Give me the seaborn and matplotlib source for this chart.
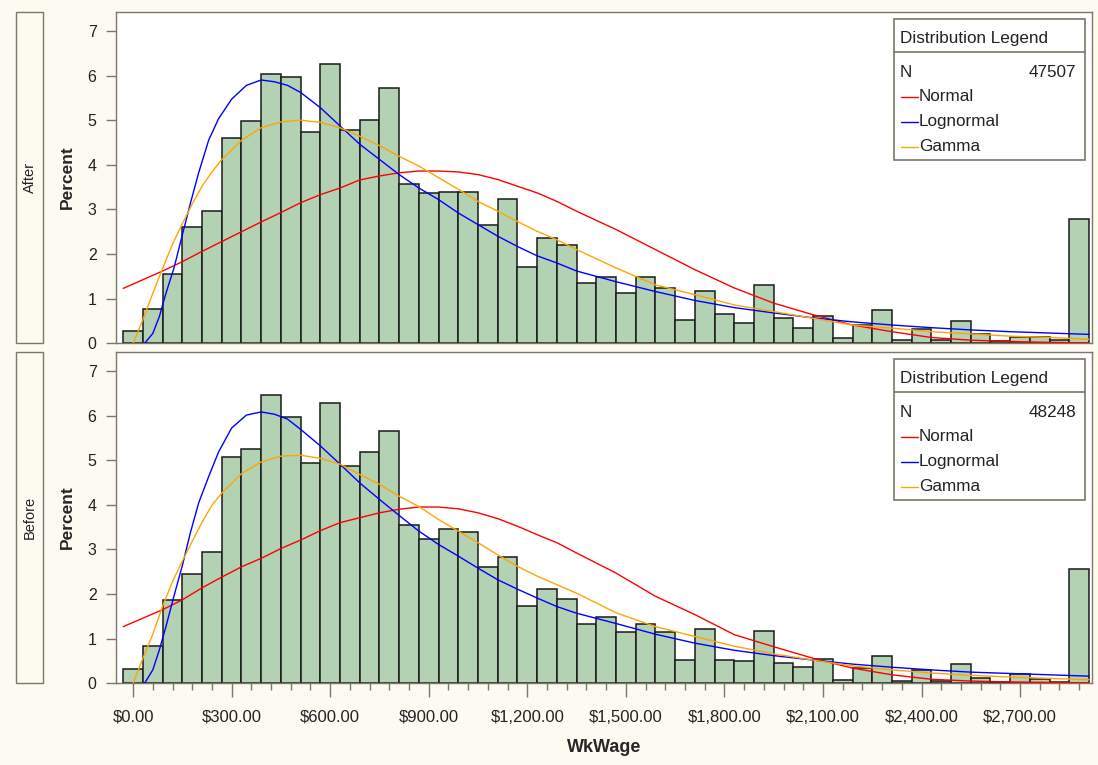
import numpy as np
import pandas as pd
import matplotlib.pyplot as plt
import seaborn as sns
from matplotlib.patches import Rectangle
from matplotlib.ticker import FixedLocator

# histogram bins (percent of obs per $60 bin)
BIN_WIDTH = 60
BIN_CENTERS = np.arange(0, 2881, BIN_WIDTH)

AFTER_PCT = [0.28, 0.77, 1.55, 2.61, 2.96, 4.61, 4.97, 6.03, 5.97, 4.73,
             6.25, 4.79, 5.01, 5.72, 3.58, 3.36, 3.39, 3.39, 2.64, 3.23,
             1.71, 2.36, 2.21, 1.36, 1.49, 1.12, 1.49, 1.25, 0.52, 1.18,
             0.65, 0.46, 1.30, 0.56, 0.34, 0.62, 0.12, 0.41, 0.74, 0.08,
             0.31, 0.08, 0.49, 0.20, 0.05, 0.15, 0.13, 0.07, 2.79]
BEFORE_PCT = [0.31, 0.84, 1.87, 2.45, 2.95, 5.06, 5.25, 6.46, 5.96, 4.94,
              6.28, 4.87, 5.18, 5.66, 3.54, 3.23, 3.45, 3.39, 2.60, 2.82,
              1.74, 2.11, 1.90, 1.33, 1.49, 1.15, 1.33, 1.15, 0.52, 1.21,
              0.52, 0.49, 1.18, 0.46, 0.37, 0.55, 0.08, 0.34, 0.62, 0.05,
              0.30, 0.05, 0.43, 0.11, 0.04, 0.21, 0.09, 0.03, 2.55]

# fitted curves
NORMAL_X = [-30, 90, 150, 210, 270, 330, 390, 450, 510, 570, 630, 690, 750,
            810, 870, 930, 990, 1050, 1110, 1170, 1230, 1290, 1350, 1470,
            1590, 1710, 1830, 1950, 2070, 2190, 2310, 2430, 2550, 2670, 2790, 2910]
AFTER_NORMAL = [1.23, 1.62, 1.83, 2.06, 2.28, 2.50, 2.72, 2.93, 3.15, 3.33, 3.48,
                3.66, 3.75, 3.82, 3.86, 3.86, 3.84, 3.78, 3.67, 3.52, 3.37, 3.18,
                2.96, 2.55, 2.10, 1.65, 1.24, 0.90, 0.64, 0.41, 0.26, 0.13, 0.07,
                0.04, 0.02, 0.01]
BEFORE_NORMAL = [1.27, 1.65, 1.87, 2.14, 2.38, 2.61, 2.80, 3.02, 3.21, 3.42, 3.60,
                 3.71, 3.82, 3.90, 3.95, 3.95, 3.91, 3.82, 3.69, 3.52, 3.33, 3.15,
                 2.92, 2.47, 1.95, 1.54, 1.09, 0.82, 0.56, 0.34, 0.19, 0.09, 0.05,
                 0.03, 0.02, 0.01]

LOGN_X = [35, 60, 80, 100, 125, 150, 175, 200, 230, 260, 300, 345, 390, 430,
          470, 510, 570, 630, 690, 750, 810, 870, 930, 990, 1050, 1110, 1170,
          1230, 1290, 1350, 1470, 1590, 1710, 1830, 1950, 2070, 2190, 2310,
          2430, 2550, 2670, 2790, 2910]
AFTER_LOGN = [0, 0.22, 0.60, 1.12, 1.70, 2.43, 3.15, 3.83, 4.55, 5.03, 5.47, 5.78,
              5.90, 5.86, 5.78, 5.62, 5.28, 4.87, 4.46, 4.12, 3.78, 3.48, 3.22,
              2.92, 2.66, 2.40, 2.17, 1.96, 1.80, 1.62, 1.38, 1.16, 0.96, 0.80,
              0.68, 0.57, 0.48, 0.41, 0.35, 0.30, 0.26, 0.23, 0.20]
BEFORE_LOGN = [0, 0.30, 0.75, 1.27, 1.97, 2.64, 3.39, 4.05, 4.63, 5.18, 5.72, 6.01,
               6.08, 6.03, 5.92, 5.69, 5.32, 4.91, 4.49, 4.12, 3.76, 3.41, 3.11,
               2.85, 2.58, 2.32, 2.11, 1.91, 1.72, 1.57, 1.34, 1.10, 0.90, 0.74,
               0.62, 0.52, 0.43, 0.36, 0.30, 0.25, 0.22, 0.19, 0.16]

GAMMA_X = [0, 30, 60, 90, 120, 150, 180, 210, 240, 270, 330, 390, 450, 510, 570,
           630, 690, 750, 810, 870, 930, 990, 1050, 1110, 1170, 1230, 1290, 1350,
           1470, 1590, 1710, 1830, 1950, 2070, 2190, 2310, 2430, 2550, 2670,
           2790, 2910]
AFTER_GAMMA = [0, 0.53, 1.12, 1.68, 2.22, 2.68, 3.12, 3.52, 3.84, 4.12, 4.55, 4.83,
               4.96, 5.00, 4.95, 4.83, 4.64, 4.43, 4.19, 3.97, 3.71, 3.45, 3.18,
               2.96, 2.73, 2.51, 2.32, 2.10, 1.69, 1.31, 1.09, 0.86, 0.71, 0.56,
               0.41, 0.34, 0.26, 0.21, 0.16, 0.13, 0.09]
BEFORE_GAMMA = [0, 0.56, 1.10, 1.73, 2.28, 2.74, 3.18, 3.61, 3.99, 4.26, 4.70, 4.96,
                5.09, 5.11, 5.04, 4.91, 4.68, 4.46, 4.19, 3.96, 3.67, 3.41, 3.15,
                2.88, 2.62, 2.40, 2.21, 2.02, 1.58, 1.27, 1.05, 0.83, 0.66, 0.52,
                0.39, 0.30, 0.23, 0.18, 0.14, 0.11, 0.08]

PANELS = ["After", "Before"]
N_OBS = [47507, 48248]
CURVE_NAMES = ["Normal", "Lognormal", "Gamma"]
CURVE_COLORS = ["#FF0000", "#0000FF", "#FFA500"]

X_TICKS = [0, 300, 600, 900, 1200, 1500, 1800, 2100, 2400, 2700]
X_TICK_LABELS = ["$0.00", "$300.00", "$600.00", "$900.00", "$1,200.00",
                 "$1,500.00", "$1,800.00", "$2,100.00", "$2,400.00", "$2,700.00"]
Y_TICKS = [0, 1, 2, 3, 4, 5, 6, 7]

BG = "#FDFAF2"
FRAME = "#7C7868"
BAR = "#B3D1B3"
TXT = "#222222"

sns.set_theme(style="white")
plt.rcParams["font.family"] = ["Liberation Sans", "DejaVu Sans"]

fig = plt.figure(figsize=(10.98, 7.65), dpi=100, facecolor=BG)

W, H = 1098, 765
ax_left, ax_right = 116, 1092
panel_px = [(11.7, 343.3), (351.7, 683.3)]

panel_data = [
    (AFTER_PCT, [AFTER_NORMAL, AFTER_LOGN, AFTER_GAMMA]),
    (BEFORE_PCT, [BEFORE_NORMAL, BEFORE_LOGN, BEFORE_GAMMA]),
]
curve_x = [NORMAL_X, LOGN_X, GAMMA_X]

for i, (name, n_obs) in enumerate(zip(PANELS, N_OBS)):
    top, bot = panel_px[i]
    ax = fig.add_axes([ax_left / W, 1 - bot / H, (ax_right - ax_left) / W, (bot - top) / H])
    ax.set_facecolor("white")
    pct, curves = panel_data[i]

    hist_df = pd.DataFrame({"wage": BIN_CENTERS, "pct": pct})
    sns.histplot(data=hist_df, x="wage", weights="pct", binwidth=BIN_WIDTH,
                 binrange=(-30, 2910), color=BAR, edgecolor="#1a1a1a",
                 linewidth=1.1, alpha=1, ax=ax, zorder=2)
    for cx, cy, col in zip(curve_x, curves, CURVE_COLORS):
        sns.lineplot(x=cx, y=cy, color=col, linewidth=1.0, ax=ax, legend=False,
                     sort=False, zorder=3)

    ax.set_xlim(-52, 2919)
    ax.set_ylim(0, 7.43)
    ax.set_yticks(Y_TICKS)
    ax.set_yticklabels([str(t) for t in Y_TICKS], fontsize=11.5, color=TXT)
    ax.set_ylabel("Percent", fontsize=12.5, fontweight="bold")
    ax.yaxis.set_label_coords(-41 / (ax_right - ax_left), 0.5)
    ax.tick_params(axis="y", left=True, length=7, width=1, color=FRAME, pad=7)
    for sp in ax.spines.values():
        sp.set_color(FRAME)
        sp.set_linewidth(1.0)

    if i == 0:
        ax.set_xticks([])
        ax.set_xlabel("")
    else:
        ax.set_xticks(X_TICKS)
        ax.set_xticklabels(X_TICK_LABELS, fontsize=12, color=TXT)
        ax.xaxis.set_minor_locator(FixedLocator(np.arange(0, 2881, BIN_WIDTH)))
        ax.tick_params(axis="x", which="major", bottom=True, length=10, width=1,
                       color=FRAME, pad=9)
        ax.tick_params(axis="x", which="minor", bottom=True, length=5, width=1,
                       color=FRAME)
        ax.set_xlabel("WkWage", fontsize=13, fontweight="bold", labelpad=10)

    # legend box, SAS style
    lx0, lx1, ly0, ly1 = 0.797, 0.9925, 0.554, 0.979
    ax.add_patch(Rectangle((lx0, ly0), lx1 - lx0, ly1 - ly0, transform=ax.transAxes,
                           facecolor="white", edgecolor=FRAME, linewidth=1.2, zorder=5))
    ax.plot([lx0, lx1], [0.877, 0.877], transform=ax.transAxes, color=FRAME,
            linewidth=1.2, zorder=6)
    ax.text(0.803, 0.918, "Distribution Legend", transform=ax.transAxes, fontsize=12.3,
            va="center", ha="left", color=TXT, zorder=7)
    ax.text(0.803, 0.818, "N", transform=ax.transAxes, fontsize=12.3,
            va="center", ha="left", color=TXT, zorder=7)
    ax.text(0.984, 0.818, str(n_obs), transform=ax.transAxes, fontsize=12.3,
            va="center", ha="right", color=TXT, zorder=7)
    for k, (cname, col) in enumerate(zip(CURVE_NAMES, CURVE_COLORS)):
        yy = 0.743 - k * 0.075
        ax.plot([0.804, 0.8215], [yy, yy], transform=ax.transAxes, color=col,
                linewidth=1.0, zorder=7)
        ax.text(0.8225, yy, cname, transform=ax.transAxes, fontsize=12.3,
                va="center", ha="left", color=TXT, zorder=7)

    # panel strip on the left
    fig.patches.append(Rectangle((16 / W, 1 - bot / H), 27 / W, (bot - top) / H,
                                 transform=fig.transFigure, facecolor=BG,
                                 edgecolor=FRAME, linewidth=1.0))
    fig.text(29.5 / W, 1 - (top + bot) / 2 / H, name, rotation=90, fontsize=10.5,
             ha="center", va="center", color=TXT)

fig.savefig("out.png", dpi=100, facecolor=BG)
